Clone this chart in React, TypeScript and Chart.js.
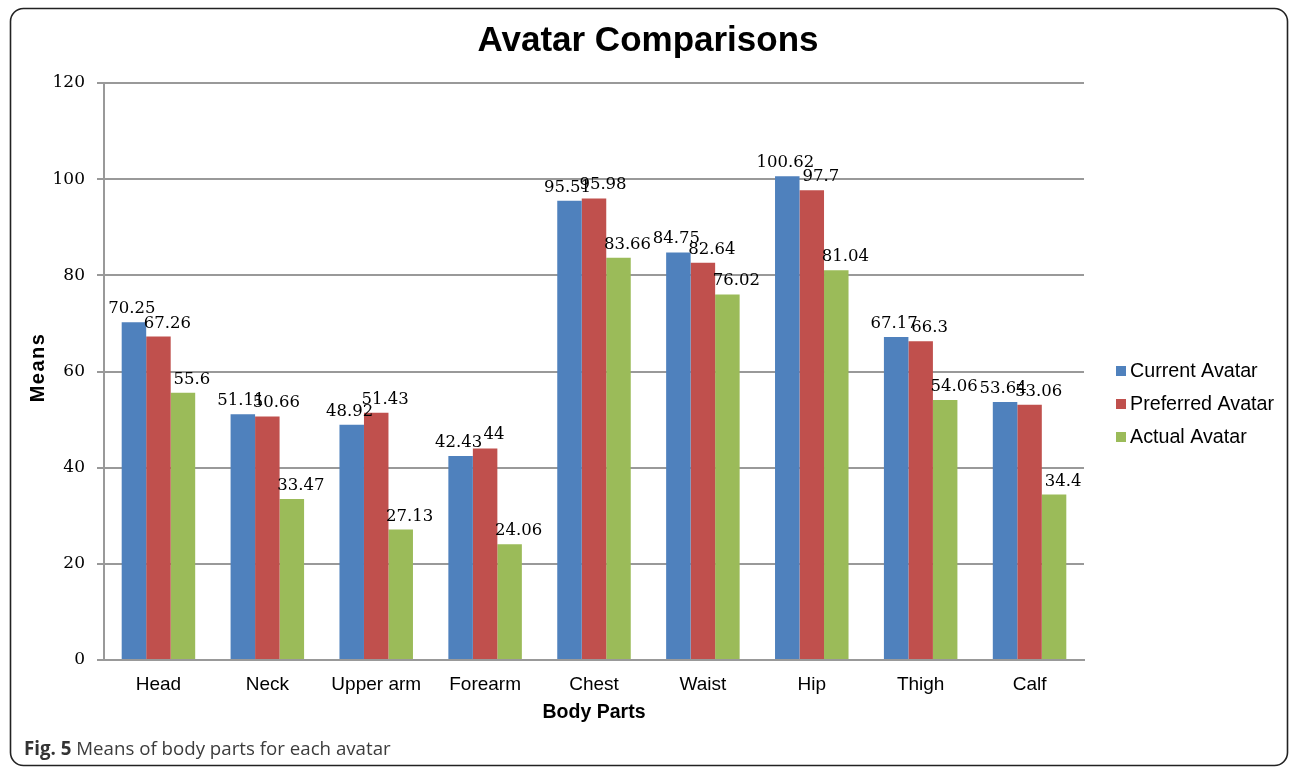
import React, { useEffect, useRef } from "react";
import { Chart, registerables } from "chart.js";

Chart.register(...registerables);

const categories = ["Head", "Neck", "Upper arm", "Forearm", "Chest", "Waist", "Hip", "Thigh", "Calf"];
const currentAvatar = [70.25, 51.11, 48.92, 42.43, 95.51, 84.75, 100.62, 67.17, 53.64];
const preferredAvatar = [67.26, 50.66, 51.43, 44, 95.98, 82.64, 97.7, 66.3, 53.06];
const actualAvatar = [55.6, 33.47, 27.13, 24.06, 83.66, 76.02, 81.04, 54.06, 34.4];
const seriesNames = ["Current Avatar", "Preferred Avatar", "Actual Avatar"];
const seriesColors = ["#4F81BD", "#C0504D", "#9BBB59"];
const labelShift = [-2, 9, 9];

const W = 1290;
const H = 767;
const SANS = "'Liberation Sans', Arial, sans-serif";
const SERIF = "'DejaVu Serif', serif";

const decorPlugin = {
  id: "decor",
  beforeDraw(chart: any) {
    const ctx = chart.ctx;
    ctx.save();
    ctx.fillStyle = "#fff";
    ctx.fillRect(0, 0, chart.width, chart.height);
    ctx.beginPath();
    ctx.roundRect(10.5, 8.5, 1277, 757, 13);
    ctx.strokeStyle = "#222";
    ctx.lineWidth = 1.6;
    ctx.stroke();
    ctx.restore();
  },
  afterDatasetsDraw(chart: any) {
    const ctx = chart.ctx;
    ctx.save();
    ctx.font = "16.5px " + SERIF;
    ctx.fillStyle = "#000";
    ctx.textAlign = "center";
    ctx.textBaseline = "alphabetic";
    chart.data.datasets.forEach((ds: any, di: number) => {
      const meta = chart.getDatasetMeta(di);
      meta.data.forEach((bar: any, i: number) => {
        ctx.fillText(String(ds.data[i]), bar.x + labelShift[di], bar.y - 9);
      });
    });
    ctx.restore();
  },
  afterDraw(chart: any) {
    const ctx = chart.ctx;
    const area = chart.chartArea;
    ctx.save();
    // title
    ctx.fillStyle = "#000";
    ctx.textAlign = "center";
    ctx.textBaseline = "alphabetic";
    ctx.font = "bold 35px " + SANS;
    ctx.fillText("Avatar Comparisons", 648, 51);
    // x axis title
    ctx.font = "bold 19.5px " + SANS;
    ctx.textBaseline = "middle";
    ctx.fillText("Body Parts", (area.left + area.right) / 2, 713);
    // y axis title
    ctx.save();
    ctx.translate(38, (area.top + area.bottom) / 2 - 4);
    ctx.rotate(-Math.PI / 2);
    ctx.font = "bold 20px " + SANS;
    (ctx as any).letterSpacing = "1.5px";
    ctx.fillText("Means", 0, 0);
    ctx.restore();
    // legend
    ctx.textAlign = "left";
    ctx.textBaseline = "middle";
    ctx.font = "19.7px " + SANS;
    seriesNames.forEach((name, i) => {
      const cy = 371 + i * 33;
      ctx.fillStyle = seriesColors[i];
      ctx.fillRect(1116, cy - 5, 10, 10);
      ctx.fillStyle = "#000";
      ctx.fillText(name, 1130, cy + 1);
    });
    // caption
    ctx.textBaseline = "alphabetic";
    ctx.fillStyle = "#333";
    ctx.font = "bold 18.7px 'Open Sans', sans-serif";
    const figText = "Fig. 5";
    ctx.fillText(figText, 24, 755);
    const fw = ctx.measureText(figText).width;
    ctx.font = "18.7px 'Open Sans', sans-serif";
    ctx.fillStyle = "#3c3c3c";
    ctx.fillText(" Means of body parts for each avatar", 24 + fw, 755);
    ctx.restore();
  },
};

export default function App() {
  const canvasRef = useRef<HTMLCanvasElement | null>(null);

  useEffect(() => {
    const canvas = canvasRef.current;
    if (!canvas) return;
    const chart = new Chart(canvas, {
      type: "bar",
      data: {
        labels: categories,
        datasets: [currentAvatar, preferredAvatar, actualAvatar].map((vals, i) => ({
          label: seriesNames[i],
          data: vals,
          backgroundColor: seriesColors[i],
          borderWidth: 0,
          categoryPercentage: 0.675,
          barPercentage: 1.0,
        })),
      },
      options: {
        responsive: false,
        animation: false,
        devicePixelRatio: 1,
        layout: { padding: { left: 0, top: 83, right: 206, bottom: 0 } },
        plugins: {
          legend: { display: false },
          title: { display: false },
          tooltip: { enabled: false },
        },
        scales: {
          x: {
            grid: { display: false, drawTicks: false },
            border: { display: true, color: "#999", width: 2 },
            ticks: {
              color: "#000",
              font: { family: SANS, size: 19 },
              padding: 13,
              maxRotation: 0,
              autoSkip: false,
            },
            afterFit(scale: any) {
              scale.height = H - 660;
            },
          },
          y: {
            min: 0,
            max: 120,
            grid: {
              color: "#999",
              lineWidth: 2,
              drawTicks: true,
              tickLength: 7,
              tickColor: "#999",
            },
            border: { display: true, color: "#999", width: 2 },
            ticks: {
              stepSize: 20,
              color: "#000",
              font: { family: SERIF, size: 17 },
              padding: 12,
            },
            afterFit(scale: any) {
              scale.width = 104;
            },
          },
        },
      },
      plugins: [decorPlugin],
    });
    return () => chart.destroy();
  }, []);

  return (
    <div style={{ position: "fixed", left: 0, top: 0, width: W, height: H, background: "#fff" }}>
      <canvas ref={canvasRef} width={W} height={H} style={{ width: W, height: H, display: "block" }} />
    </div>
  );
}
